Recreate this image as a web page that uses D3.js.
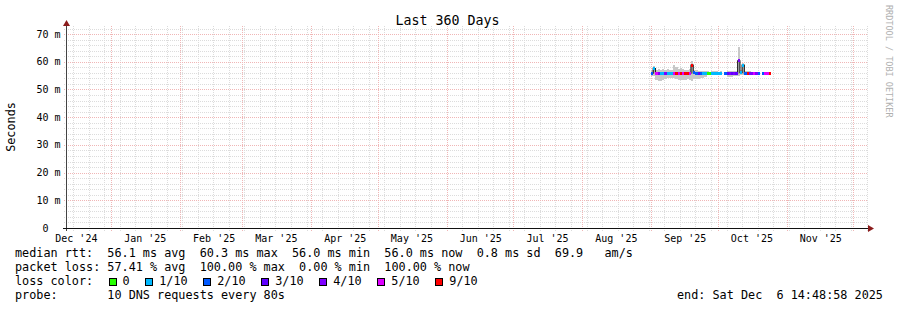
<!DOCTYPE html>
<html>
<head>
<meta charset="utf-8">
<script src="https://cdn.jsdelivr.net/npm/d3@7"></script>
<style>
  html, body { margin: 0; padding: 0; background: #fff; }
  svg text { font-family: "DejaVu Sans Mono", monospace; white-space: pre; fill: #000; }
</style>
</head>
<body>
<svg id="chart"></svg>
<script>
'use strict';

// time window of the graph (360 days)
var viewStart = new Date(Date.UTC(2024, 11, 12, 4, 48, 58));
var viewEnd = new Date(Date.UTC(2025, 11, 7, 4, 48, 58));

// one sample per day, Sep 1 .. Oct 24 2025
var firstDay = new Date(Date.UTC(2025, 8, 1));
var afterLastDay = new Date(Date.UTC(2025, 9, 25));

// median rtt in ms, null = no answer
var median = [
  55.9, 57.5, 55.9, 55.9, 55.9, 55.9, 55.9, 55.9, 55.9, 55.9,
  55.9, 55.9, 55.9, 55.9, 55.9, 55.9, 55.9, 55.9, 58.8, 56.0,
  55.9, 55.9, 55.9, 55.9, 55.9, 55.9, 55.9, 55.9, 55.9, 55.9,
  55.9, 55.9, null, 55.9, 55.9, 55.9, 55.9, 55.9, 55.9, 60.3,
  56.1, 58.8, 55.9, 55.9, 55.9, 55.9, 55.9, 55.9, 55.9, null,
  55.9, 55.9, 55.9, 55.9
];
// lost pings out of 10
var lossCount = [
  2, 1, 5, 4, 1, 1, 4, 1, 1, 1,
  5, 9, 5, 9, 5, 9, 9, 5, 9, 2,
  2, 3, 2, 1, 1, 0, 0, 1, 1, 1,
  1, 1, 10, 2, 3, 4, 3, 4, 3, 4,
  1, 1, 2, 9, 4, 4, 5, 4, 2, 10,
  2, 5, 5, 9
];
// smoke: lowest and highest ping of each day, ms
var smokeLo = [
  55.0, 54.8, 53.3, 53.2, 53.2, 53.5, 53.8, 54.0, 54.0, 54.2,
  54.0, 53.8, 53.6, 53.5, 53.6, 53.4, 53.8, 53.6, 53.2, 53.8,
  53.8, 53.9, 54.0, 54.3, 54.6, 55.2, 55.3, 55.2, 55.2, 55.3,
  55.2, 55.3, null, 55.4, 54.6, 54.5, 54.6, 54.8, 54.7, 54.8,
  55.2, 55.3, 55.4, 55.3, 55.4, 55.5, 55.5, 55.5, 55.5, null,
  55.5, 55.5, 55.5, 55.5
];
var smokeHi = [
  57.0, 58.6, 57.2, 57.3, 57.2, 57.4, 57.0, 57.3, 57.2, 57.0,
  58.8, 58.2, 57.4, 57.6, 57.4, 57.2, 57.0, 57.3, 60.4, 57.0,
  56.9, 56.8, 56.8, 56.6, 56.6, 56.5, 56.4, 56.5, 56.6, 56.5,
  56.4, 56.5, null, 56.4, 56.6, 56.8, 56.7, 56.6, 56.8, 65.2,
  57.0, 59.6, 56.5, 56.6, 56.5, 56.4, 56.4, 56.4, 56.4, null,
  56.4, 56.4, 56.4, 56.4
];

var lossLabels = ["0", "1/10", "2/10", "3/10", "4/10", "5/10", "9/10"];
var lossColors = ["#26ff00", "#00b8ff", "#0059ff", "#5e00ff", "#7e00ff", "#dd00ff", "#ff0000"];
var lossFrom = [0, 1, 2, 3, 4, 5, 9];

var yTicks = [0, 10, 20, 30, 40, 50, 60, 70];

var legendRows = [
  "median rtt:  56.1 ms avg  60.3 ms max  56.0 ms min  56.0 ms now  0.8 ms sd  69.9   am/s",
  "packet loss: 57.41 % avg  100.00 % max  0.00 % min  100.00 % now",
  "loss color:",
  "probe:       10 DNS requests every 80s"
];
var endLabel = "end: Sat Dec  6 14:48:58 2025";

function d3init() {
  var svg = d3.select("#chart")
      .attr("width", 897)
      .attr("height", 310);

  var x = d3.scaleUtc().domain([viewStart, viewEnd]).range([67, 867]);
  var y = d3.scaleLinear().domain([0, 72.2]).range([228, 28]);

  var px = function(v) { return Math.round(v) + 0.5; };

  // ---- grid
  var grid = svg.append("g").attr("shape-rendering", "crispEdges");
  var minorCol = "#dcdcdc", majorCol = "#f0b6b6";

  grid.selectAll("line.hmin")
      .data(d3.range(2, 73, 2).filter(function(d) { return d % 10; }))
      .enter().append("line")
      .attr("x1", 64).attr("x2", 868)
      .attr("y1", function(d) { return px(y(d)); })
      .attr("y2", function(d) { return px(y(d)); })
      .attr("stroke", minorCol).attr("stroke-dasharray", "1,1");

  grid.selectAll("line.vmin")
      .data(d3.utcSunday.range(viewStart, viewEnd))
      .enter().append("line")
      .attr("x1", function(d) { return px(x(d)); })
      .attr("x2", function(d) { return px(x(d)); })
      .attr("y1", 26).attr("y2", 231)
      .attr("stroke", minorCol).attr("stroke-dasharray", "1,1");

  grid.selectAll("line.hmaj")
      .data(yTicks.slice(1))
      .enter().append("line")
      .attr("x1", 64).attr("x2", 868)
      .attr("y1", function(d) { return px(y(d)); })
      .attr("y2", function(d) { return px(y(d)); })
      .attr("stroke", majorCol).attr("stroke-dasharray", "1,1");

  grid.selectAll("line.vmaj")
      .data(d3.utcMonth.range(viewStart, viewEnd))
      .enter().append("line")
      .attr("x1", function(d) { return px(x(d)); })
      .attr("x2", function(d) { return px(x(d)); })
      .attr("y1", 26).attr("y2", 231)
      .attr("stroke", majorCol).attr("stroke-dasharray", "1,1");

  // ---- data
  var days = d3.utcDays(firstDay, afterLastDay);
  var rows = days.map(function(d, i) {
    return { t0: d, t1: d3.utcDay.offset(d, 1), med: median[i], loss: lossCount[i],
             lo: smokeLo[i], hi: smokeHi[i] };
  });
  var colorOf = function(n) {
    var k = 0;
    lossFrom.forEach(function(f, j) { if (n >= f) k = j; });
    return lossColors[k];
  };

  var plot = svg.append("g");
  plot.selectAll("rect.smoke")
      .data(rows.filter(function(r) { return r.lo != null; }))
      .enter().append("rect")
      .attr("x", function(r) { return x(r.t0); })
      .attr("width", function(r) { return x(r.t1) - x(r.t0); })
      .attr("y", function(r) { return y(r.hi); })
      .attr("height", function(r) { return y(r.lo) - y(r.hi); })
      .attr("fill", "#c8c8c8")
      .attr("shape-rendering", "crispEdges");

  var medLine = d3.line()
      .defined(function(r) { return r.med != null; })
      .x(function(r) { return x(r.t0); })
      .y(function(r) { return y(r.med); })
      .curve(d3.curveStepAfter);
  plot.append("path")
      .datum(rows)
      .attr("d", medLine)
      .attr("fill", "none")
      .attr("stroke", "#202020")
      .attr("stroke-width", 1.2);

  plot.selectAll("rect.med")
      .data(rows.filter(function(r) { return r.med != null; }))
      .enter().append("rect")
      .attr("x", function(r) { return x(r.t0); })
      .attr("width", function(r) { return x(r.t1) - x(r.t0); })
      .attr("y", function(r) { return y(r.med) - 1.5; })
      .attr("height", 3)
      .attr("fill", function(r) { return colorOf(r.loss); })
      .attr("shape-rendering", "crispEdges");

  // ---- axes
  svg.append("line")
      .attr("x1", 66.5).attr("x2", 66.5).attr("y1", 231).attr("y2", 25)
      .attr("stroke", "#444");
  svg.append("line")
      .attr("x1", 63).attr("x2", 869).attr("y1", 228.5).attr("y2", 228.5)
      .attr("stroke", "#111");
  svg.append("path")
      .attr("d", "M63,26 L70,26 L66.5,20 Z")
      .attr("fill", "#8b1c1c");
  svg.append("path")
      .attr("d", "M868,225 L868,232 L874,228.5 Z")
      .attr("fill", "#8b1c1c");

  svg.selectAll("text.ylab")
      .data(yTicks)
      .enter().append("text")
      .attr("x", 60.5)
      .attr("y", function(d) { return y(d) + 3.6; })
      .attr("text-anchor", "end")
      .style("font-size", "10px")
      .text(function(d) { return d === 0 ? "0  " : d + " m"; });

  var monthLabels = d3.utcMonth.range(d3.utcMonth.floor(viewStart), viewEnd)
      .map(function(m) { return { m: m, at: d3.utcHour.offset(m, 370) }; })
      .filter(function(o) { return o.at > viewStart && o.at < viewEnd; });
  svg.selectAll("text.xlab")
      .data(monthLabels)
      .enter().append("text")
      .attr("x", function(o) { return x(o.at); })
      .attr("y", 241.5)
      .attr("text-anchor", "middle")
      .style("font-size", "10px")
      .text(function(o) { return d3.utcFormat("%b '%y")(o.m); });

  // ---- titles
  svg.append("text")
      .attr("x", 447.5).attr("y", 25)
      .attr("text-anchor", "middle")
      .style("font-size", "13.3px")
      .text("Last 360 Days");

  svg.append("text")
      .attr("transform", "translate(14.5,127) rotate(-90)")
      .attr("text-anchor", "middle")
      .style("font-size", "11.8px")
      .text("Seconds");

  svg.append("text")
      .attr("transform", "translate(885.5,5) rotate(90)")
      .style("font-size", "8.5px")
      .style("fill", "#b0b0b0")
      .text("RRDTOOL / TOBI OETIKER");

  // ---- legend
  var leg = svg.append("g").style("font-size", "11.8px");
  legendRows.forEach(function(s, i) {
    leg.append("text").attr("x", 15).attr("y", 257 + i * 14).text(s);
  });
  leg.append("text").attr("x", 677).attr("y", 299).text(endLabel);

  var bx = 108.5;
  lossLabels.forEach(function(lab, i) {
    leg.append("rect")
        .attr("x", Math.round(bx) + 0.5).attr("y", 278.5)
        .attr("width", 7).attr("height", 7)
        .attr("fill", lossColors[i])
        .attr("stroke", "#000");
    var t = leg.append("text").attr("x", bx + 14).attr("y", 285).text(lab);
    bx = bx + 14 + t.node().getComputedTextLength() + 15.6;
  });
}

d3init();
</script>
</body>
</html>
